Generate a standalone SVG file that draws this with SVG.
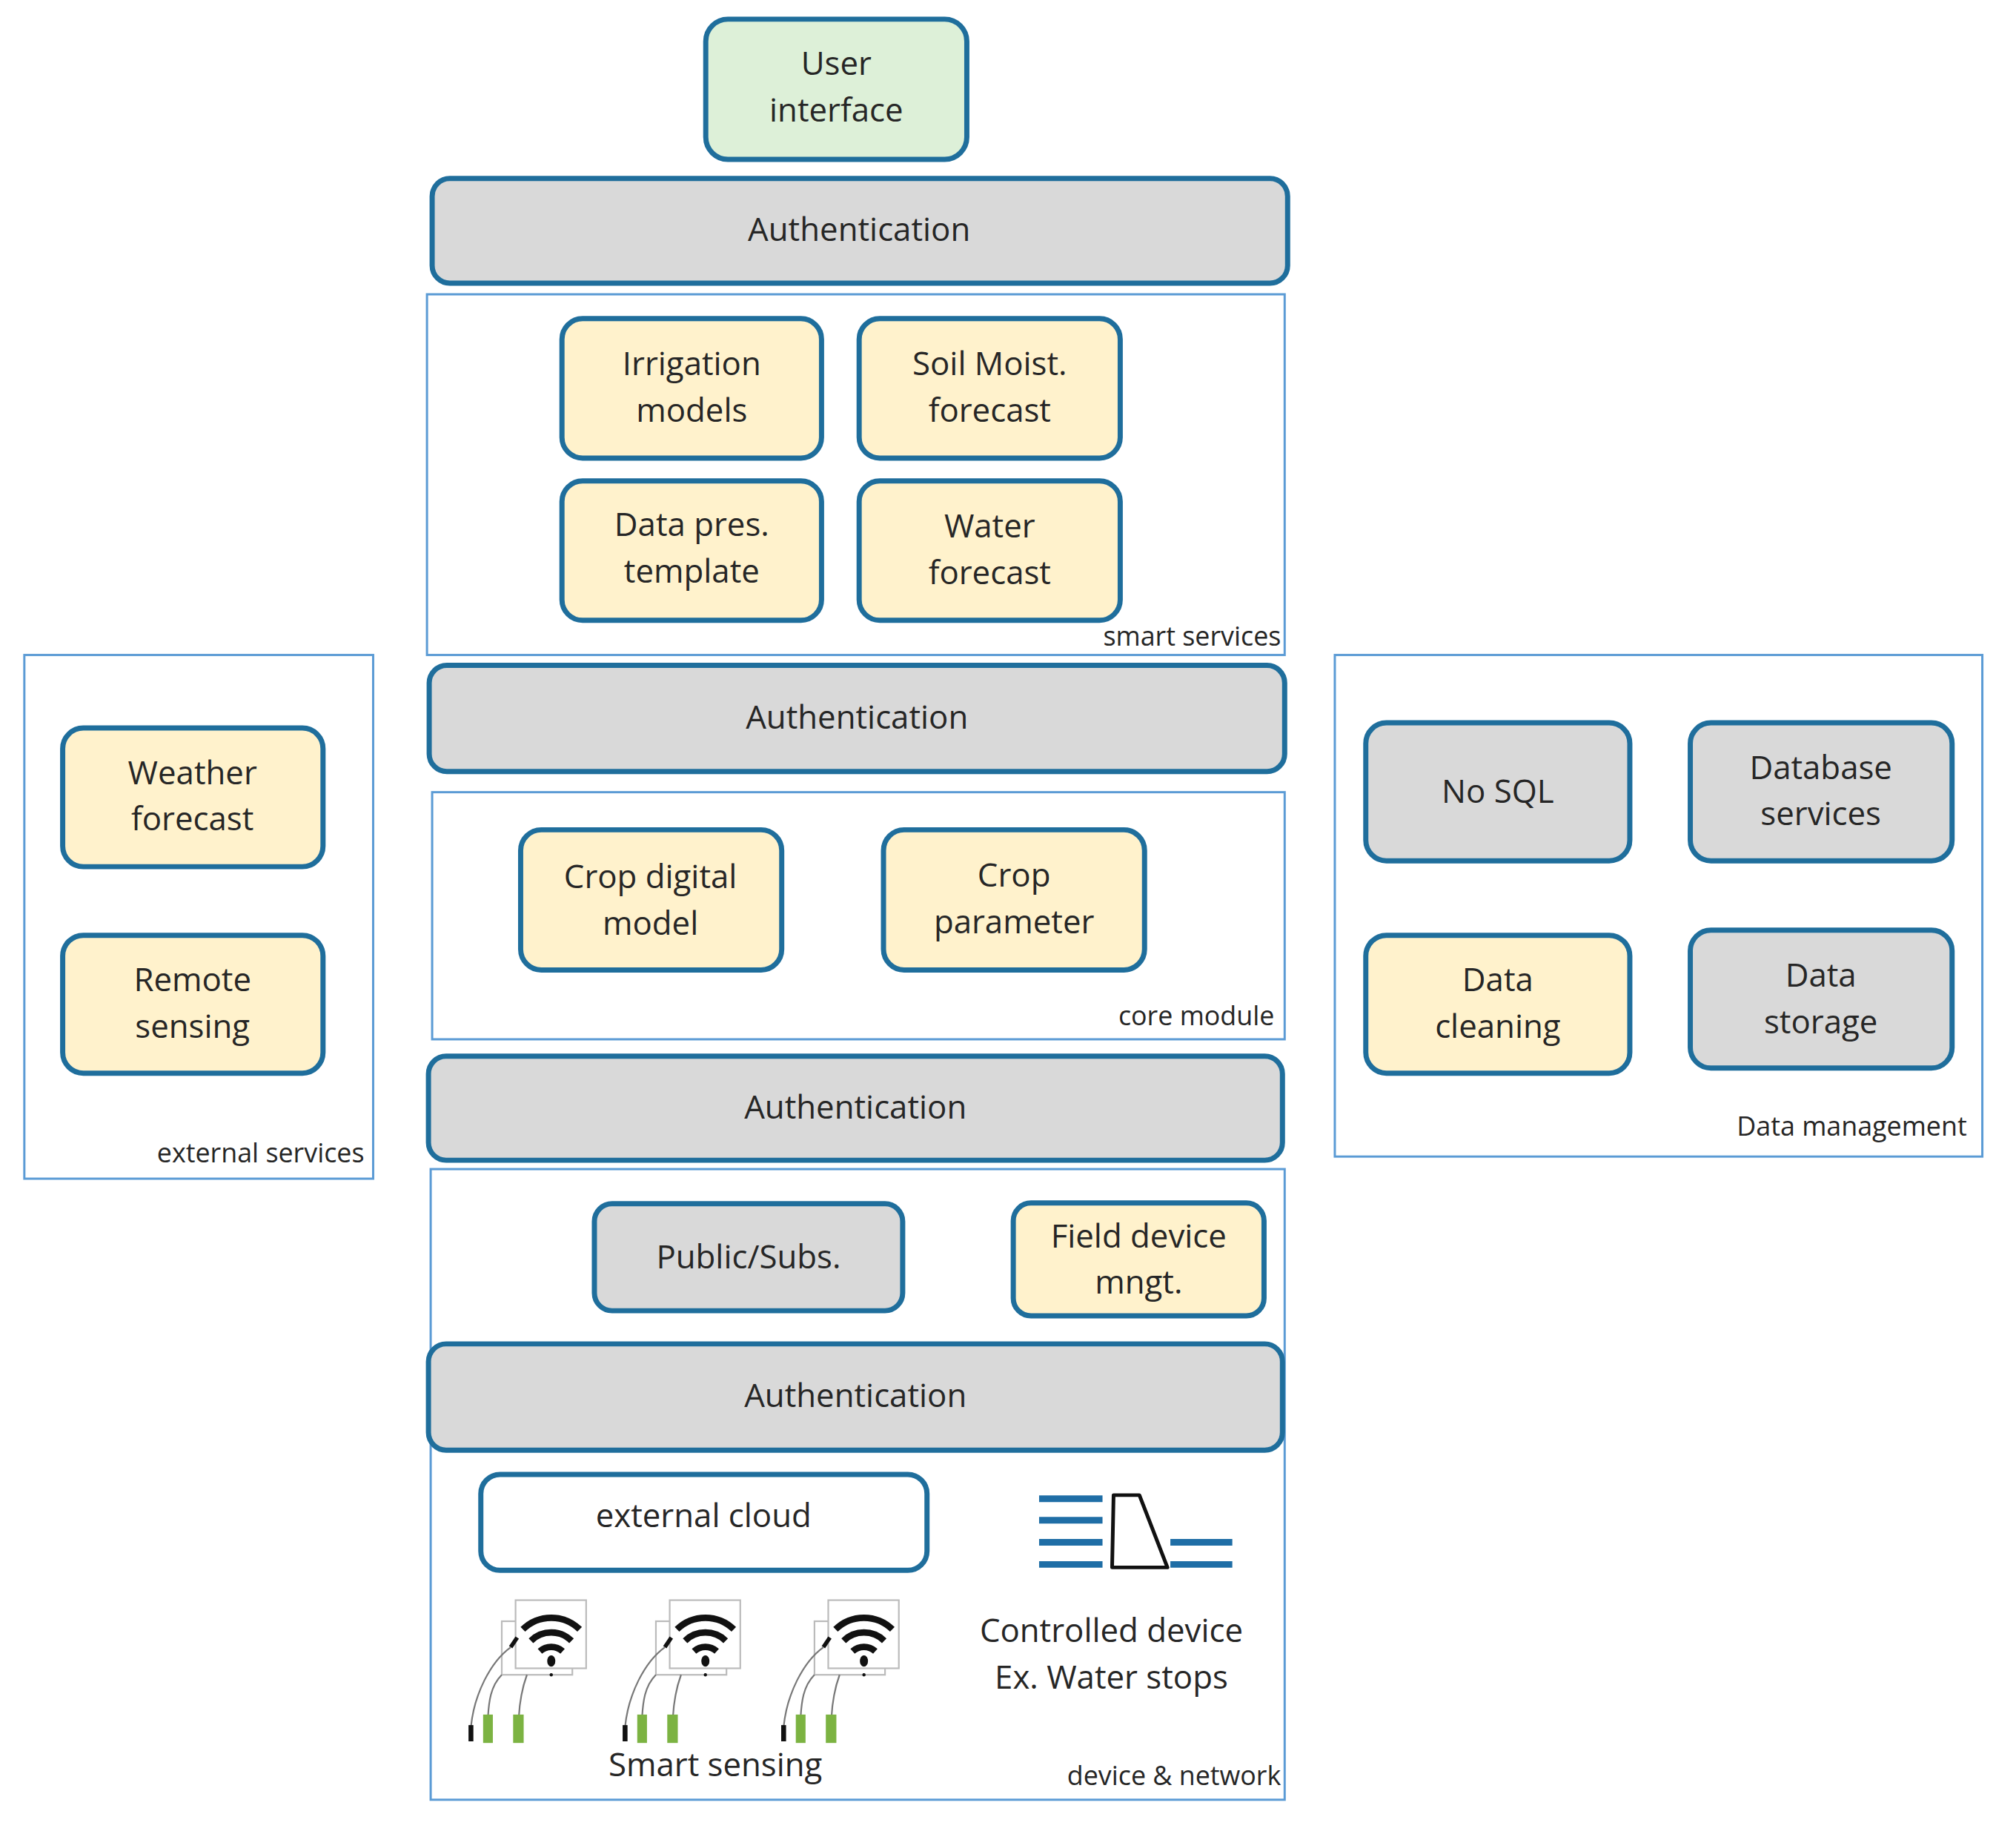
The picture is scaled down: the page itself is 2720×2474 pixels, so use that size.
<svg xmlns="http://www.w3.org/2000/svg" width="2720" height="2474" viewBox="0 0 2720 2474">
<defs>
<style>
text{font-family:"Open Sans","Liberation Sans",sans-serif;fill:#262626;text-anchor:middle}
.t{font-size:44px}
.s{font-size:36px;text-anchor:end}
.y{fill:#fff2cc;stroke:#1f6e9c;stroke-width:7}
.g{fill:#d9d9d9;stroke:#1f6e9c;stroke-width:7}
.f{fill:none;stroke:#5b9bd5;stroke-width:3}
.wl{stroke:#1f6ea6;stroke-width:9}
</style>
<g id="sensor">
<rect x="44" y="30" width="87" height="66" fill="#fff" stroke="#bbb" stroke-width="2"/>
<rect x="61" y="4" width="87" height="84" fill="#fff" stroke="#bbb" stroke-width="2"/>
<path d="M70 40 A50 50 0 0 1 140 40" fill="none" stroke="#111" stroke-width="8"/>
<path d="M80 54 A36 36 0 0 1 130 54" fill="none" stroke="#111" stroke-width="8"/>
<path d="M91 67 A21 21 0 0 1 119 67" fill="none" stroke="#111" stroke-width="8"/>
<ellipse cx="105" cy="79" rx="5" ry="7" fill="#111"/>
<circle cx="105" cy="96" r="2" fill="#111"/>
<path d="M63 50 L55 62" stroke="#111" stroke-width="5"/>
<path d="M55 62 C30 80 10 120 6 160" fill="none" stroke="#777" stroke-width="2"/>
<path d="M44 96 C30 110 28 130 27 148" fill="none" stroke="#777" stroke-width="2"/>
<path d="M75 96 C68 115 66 130 65 148" fill="none" stroke="#777" stroke-width="2"/>
<rect x="3" y="158" width="6" height="20" fill="#111"/>
<rect x="21" y="145" width="12" height="35" fill="#7cb342"/>
<rect x="58" y="145" width="13" height="35" fill="#7cb342"/>
</g>
</defs>
<rect width="2720" height="2474" fill="#fff"/>
<g transform="scale(0.995)">
<g id="frames">
<rect class="f" x="579" y="399" width="1163" height="489"/>
<text class="s" x="1737" y="875">smart services</text>
<rect class="f" x="586" y="1074" width="1156" height="335"/>
<text class="s" x="1728" y="1390">core module</text>
<rect class="f" x="584" y="1585" width="1158" height="855"/>
<text class="s" x="1737" y="2420">device &amp; network</text>
<rect class="f" x="33" y="888" width="473" height="710"/>
<text class="s" x="494" y="1576">external services</text>
<rect class="f" x="1810" y="888" width="878" height="680"/>
<text class="s" x="2667" y="1540">Data management</text>
</g>
<g id="ui"><rect x="957" y="26" width="354" height="190" rx="30" fill="#ddf0d8" stroke="#1f6e9c" stroke-width="7"/><text class="t" x="1134" y="102">User</text><text class="t" x="1134" y="165">interface</text></g>
<g id="auth1"><rect class="g" x="586" y="242" width="1160" height="142" rx="24"/><text class="t" x="1165" y="327">Authentication</text></g>
<g id="auth2"><rect class="g" x="582" y="902" width="1160" height="144" rx="24"/><text class="t" x="1162" y="988">Authentication</text></g>
<g id="auth3"><rect class="g" x="581" y="1432" width="1158" height="141" rx="24"/><text class="t" x="1160" y="1517">Authentication</text></g>
<g id="auth4"><rect class="g" x="581" y="1822" width="1158" height="144" rx="24"/><text class="t" x="1160" y="1908">Authentication</text></g>
<g id="irrigation"><rect class="y" x="762" y="432" width="352" height="189" rx="28"/><text class="t" x="938" y="509">Irrigation</text><text class="t" x="938" y="572">models</text></g>
<g id="soil"><rect class="y" x="1165" y="432" width="354" height="189" rx="28"/><text class="t" x="1342" y="509">Soil Moist.</text><text class="t" x="1342" y="572">forecast</text></g>
<g id="datapres"><rect class="y" x="762" y="652" width="352" height="189" rx="28"/><text class="t" x="938" y="727">Data pres.</text><text class="t" x="938" y="790">template</text></g>
<g id="water"><rect class="y" x="1165" y="652" width="354" height="189" rx="28"/><text class="t" x="1342" y="729">Water</text><text class="t" x="1342" y="792">forecast</text></g>
<g id="cropdigital"><rect class="y" x="706" y="1125" width="354" height="190" rx="28"/><text class="t" x="882" y="1204">Crop digital</text><text class="t" x="882" y="1267">model</text></g>
<g id="cropparam"><rect class="y" x="1198" y="1125" width="354" height="190" rx="28"/><text class="t" x="1375" y="1202">Crop</text><text class="t" x="1375" y="1265">parameter</text></g>
<g id="pubsub"><rect class="g" x="806" y="1632" width="418" height="145" rx="24"/><text class="t" x="1015" y="1720">Public/Subs.</text></g>
<g id="fielddev"><rect class="y" x="1374" y="1631" width="340" height="153" rx="24"/><text class="t" x="1544" y="1691">Field device</text><text class="t" x="1544" y="1754">mngt.</text></g>
<g id="cloud"><rect x="652" y="1999" width="605" height="130" rx="26" fill="#fff" stroke="#1f6e9c" stroke-width="7"/><text class="t" x="954" y="2070">external cloud</text></g>
<g id="waterstop">
<line class="wl" x1="1409" y1="2032" x2="1495" y2="2032"/><line class="wl" x1="1409" y1="2061" x2="1495" y2="2061"/><line class="wl" x1="1409" y1="2091" x2="1495" y2="2091"/><line class="wl" x1="1409" y1="2121" x2="1495" y2="2121"/>
<line class="wl" x1="1587" y1="2091" x2="1671" y2="2091"/><line class="wl" x1="1587" y1="2121" x2="1671" y2="2121"/>
<path d="M1510 2027 L1545 2027 L1583 2125 L1508 2125 Z" fill="#fff" stroke="#111" stroke-width="5" stroke-linejoin="round"/>
<text class="t" x="1507" y="2226">Controlled device</text><text class="t" x="1507" y="2289">Ex. Water stops</text>
</g>
<g id="sensing">
<use href="#sensor" transform="translate(632,2165) scale(1.1)"/><use href="#sensor" transform="translate(841,2165) scale(1.1)"/><use href="#sensor" transform="translate(1056,2165) scale(1.1)"/>
<text class="t" x="970" y="2408">Smart sensing</text>
</g>
<g id="weather"><rect class="y" x="85" y="987" width="353" height="188" rx="28"/><text class="t" x="261" y="1063">Weather</text><text class="t" x="261" y="1126">forecast</text></g>
<g id="remote"><rect class="y" x="85" y="1268" width="353" height="187" rx="28"/><text class="t" x="261" y="1344">Remote</text><text class="t" x="261" y="1407">sensing</text></g>
<g id="nosql"><rect class="g" x="1852" y="980" width="358" height="187" rx="28"/><text class="t" x="2031" y="1088">No SQL</text></g>
<g id="dbserv"><rect class="g" x="2292" y="980" width="355" height="187" rx="28"/><text class="t" x="2469" y="1056">Database</text><text class="t" x="2469" y="1119">services</text></g>
<g id="cleaning"><rect class="y" x="1852" y="1268" width="358" height="187" rx="28"/><text class="t" x="2031" y="1344">Data</text><text class="t" x="2031" y="1407">cleaning</text></g>
<g id="storage"><rect class="g" x="2292" y="1261" width="355" height="187" rx="28"/><text class="t" x="2469" y="1338">Data</text><text class="t" x="2469" y="1401">storage</text></g>
</g>
<g id="connectors"/>
</svg>
